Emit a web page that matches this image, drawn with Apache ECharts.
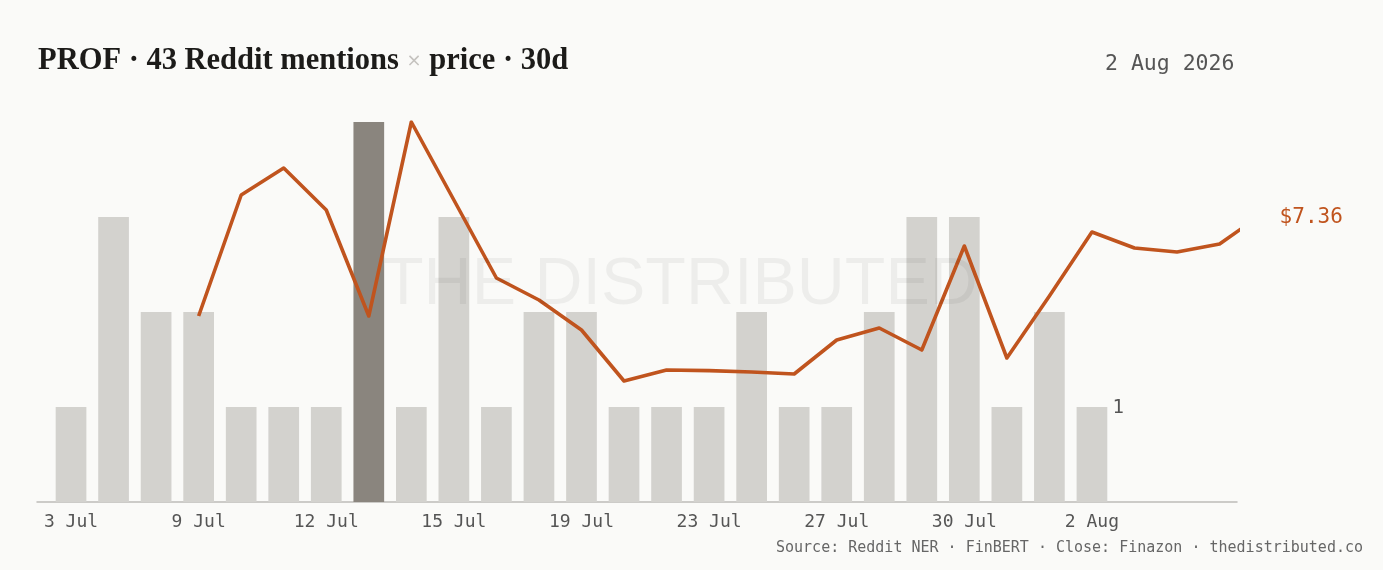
<!DOCTYPE html>
<html>
<head>
<meta charset="utf-8">
<script src="https://cdn.jsdelivr.net/npm/echarts@6/dist/echarts.min.js"></script>
<style>
html,body{margin:0;padding:0;background:#fafaf8;}
#c{width:1383px;height:570px;}
</style>
</head>
<body>
<div id="c"></div>
<script>
// ---- data ----
const dates = ['3 Jul','5 Jul','7 Jul','9 Jul','10 Jul','11 Jul','12 Jul','13 Jul','14 Jul','15 Jul',
  '17 Jul','18 Jul','19 Jul','20 Jul','22 Jul','23 Jul','24 Jul','26 Jul','27 Jul','28 Jul',
  '29 Jul','30 Jul','31 Jul','1 Aug','2 Aug','3 Aug','4 Aug','5 Aug','6 Aug'];
const mentions = [1,3,2,2,1,1,1,4,1,3,1,2,2,1,1,1,2,1,1,2,3,3,1,2,1];
const priceStart = 3;
const prices = [6.85,7.455,7.59,7.38,6.85,7.82,7.43,7.04,6.93,6.78,6.525,6.58,6.577,6.57,6.56,
  6.73,6.79,6.68,7.20,6.64,6.95,7.27,7.19,7.17,7.21,7.36];
const tickIdx = [0,3,6,9,12,15,18,21,24];
const titleText = 'PROF · 43 Reddit mentions {x|×} price · 30d';
const dateText = '2 Aug 2026';
const sourceText = 'Source: Reddit NER · FinBERT · Close: Finazon · thedistributed.co';

// ---- chart ----
const mono = "'DejaVu Sans Mono', 'Liberation Mono', monospace";
const chart = echarts.init(document.getElementById('c'));
const maxM = Math.max(...mentions);
const hi = mentions.indexOf(maxM);
const lastIdx = priceStart + prices.length - 1;
const lastPrice = prices[prices.length - 1];

chart.setOption({
  backgroundColor: '#fafaf8',
  animation: false,
  title: {
    text: titleText,
    left: 33, top: 41,
    textStyle: {
      fontFamily: "'Liberation Serif', serif", fontWeight: 'bold', fontSize: 30.5, color: '#1c1b19',
      rich: { x: { fontFamily: "'DejaVu Sans', sans-serif", fontSize: 18, color: '#c4c2be', fontWeight: 'normal' } }
    }
  },
  grid: { left: 37, width: 1200, top: 122, bottom: 68 },
  xAxis: {
    type: 'value', min: -0.8, max: 27.41,
    splitLine: { show: false },
    axisTick: { show: false },
    axisLine: { show: true, lineStyle: { color: '#bdbcb8', width: 1.5 } },
    axisLabel: {
      customValues: tickIdx,
      formatter: v => dates[Math.round(v)],
      color: '#555', fontFamily: mono, fontSize: 18, margin: 11
    }
  },
  yAxis: [
    { type: 'value', min: 0, max: maxM, show: false, splitLine: { show: false } },
    { type: 'value', min: 5.92, max: 7.82, show: false, splitLine: { show: false } }
  ],
  series: [
    {
      type: 'bar', yAxisIndex: 0, barWidth: 30.7, silent: true,
      data: mentions.map((v, i) => ({
        value: [i, v],
        itemStyle: { color: i === hi ? '#8a857e' : '#d3d2ce' },
        label: i === mentions.length - 1 ? {
          show: true, position: [36, 1], align: 'left', verticalAlign: 'middle',
          formatter: String(v), color: '#555', fontFamily: mono, fontSize: 19
        } : { show: false }
      }))
    },
    {
      type: 'line', yAxisIndex: 1, symbol: 'none', clip: true, silent: true, z: 5,
      lineStyle: { color: '#c0541e', width: 3.6, join: 'round' },
      data: prices.map((p, i) => [priceStart + i, p])
    },
    {
      type: 'scatter', yAxisIndex: 1, clip: false, symbolSize: 1, silent: true,
      itemStyle: { opacity: 0 },
      label: {
        show: true, position: 'right', distance: 17, offset: [0, 4],
        formatter: '$' + lastPrice.toFixed(2),
        color: '#c0541e', fontFamily: mono, fontSize: 21, opacity: 1
      },
      data: [[lastIdx, lastPrice]]
    }
  ],
  graphic: [
    {
      type: 'text', left: 1105, top: 53,
      style: { text: dateText, fill: '#555', font: "21.5px 'DejaVu Sans Mono', monospace" }
    },
    {
      type: 'text', right: 20, top: 541,
      style: { text: sourceText, fill: '#666', font: "15px 'DejaVu Sans Mono', monospace" }
    },
    {
      type: 'text', z: 100, left: 383, top: 252, silent: true,
      style: { text: 'THE DISTRIBUTED', fill: 'rgba(0,0,0,0.05)', font: "66.5px 'Liberation Sans', sans-serif" }
    }
  ]
});
</script>
</body>
</html>
